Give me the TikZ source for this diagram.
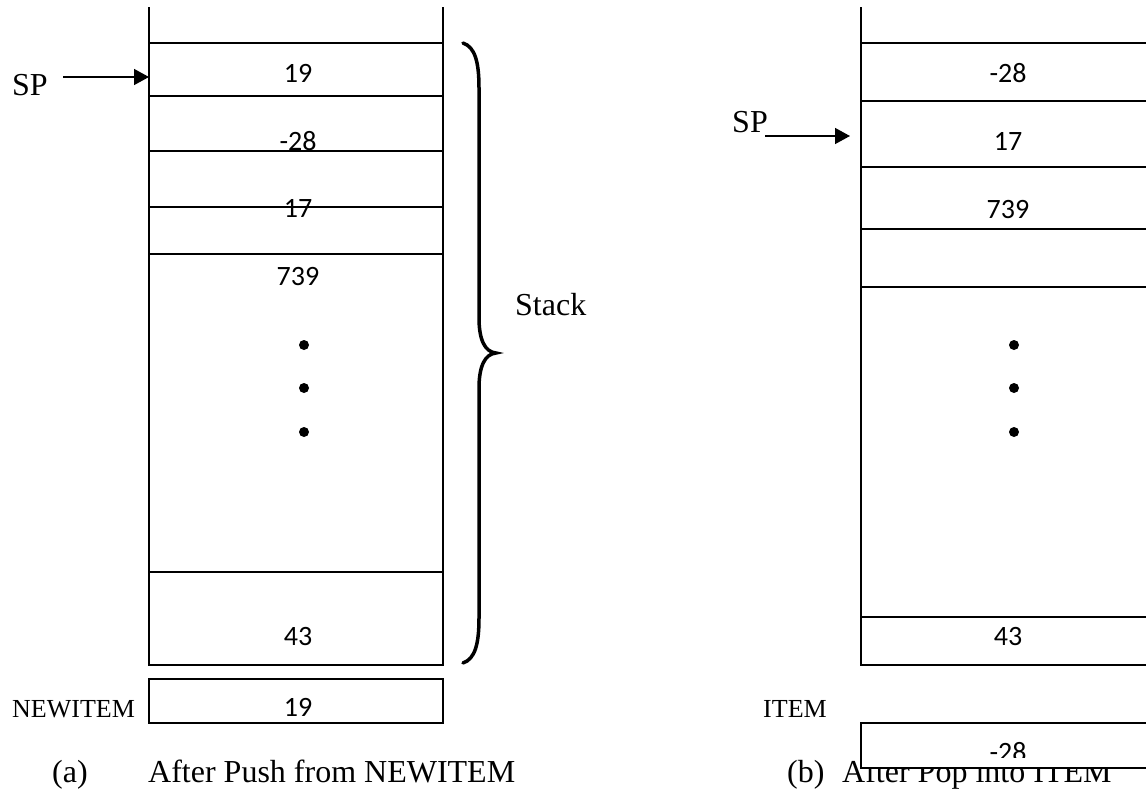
\documentclass[tikz,border=0pt]{standalone}
\usepackage{fontspec}
\setmainfont{Liberation Serif}
\newfontfamily\numfont{Carlito}
\usetikzlibrary{arrows.meta}

\tikzset{
  num/.style={inner sep=0pt, anchor=base, font=\numfont\fontsize{28}{32}\selectfont},
  lbl/.style={inner sep=0pt, anchor=base west, font=\fontsize{26}{30}\selectfont},
  biglbl/.style={inner sep=0pt, anchor=base west, font=\fontsize{32}{38}\selectfont},
  thinrule/.style={line width=1.5pt},
  rule/.style={line width=2pt},
  ptr/.style={line width=1.5pt, -{Triangle[length=15pt,width=16pt]}},
  brace/.style={line width=3.5pt, line cap=round},
  dot/.style={circle, fill=black, inner sep=0pt, minimum size=10pt}
}

\begin{document}
\begin{tikzpicture}[x=1pt, y=-1pt]
\useasboundingbox (0,0) rectangle (1146,790);
\clip (0,0) rectangle (1146,790);
\fill[white] (0,0) rectangle (1146,790);

% ---------------- (a) stack after push ----------------
\draw[rule] (149,7) -- (149,665) -- (443,665) -- (443,7);
\foreach \yy in {43,96,151,207,254,572}
  \draw[thinrule] (149,\yy) -- (443,\yy);

\node[num] (a19)  at (298,82)  {19};
\node[num] (am28) at (298,150) {-28};
\node[num] (a17)  at (298,217) {17};
\node[num] (a739) at (298,285) {739};
\node[num] (a43)  at (298,645) {43};
\node[dot] (ad1) at (304,345) {};
\node[dot] (ad2) at (304,388) {};
\node[dot] (ad3) at (304,432) {};

% stack pointer
\node[biglbl] (spa) at (12,95) {SP};
\coordinate (spaTail) at (63,77);
\coordinate (spaHead) at (149,77);
\draw[ptr] (spaTail) -- (spaHead);

% brace and its label
\draw[brace] (463,43) .. controls (475,47) and (479,62) .. (479,88)
  -- (479,318) .. controls (479,340) and (485,352) .. (496,353)
  .. controls (485,354) and (479,366) .. (479,388)
  -- (479,618) .. controls (479,644) and (475,659) .. (463,663);
\node[biglbl] (stk) at (515,315) {Stack};

% NEWITEM register
\node[lbl] (nilbl) at (12,717) {NEWITEM};
\draw[rule] (149,679) rectangle (443,723);
\begin{scope}
  \clip (150,680) rectangle (442,715);
  \node[num] (ni19) at (298,716) {19};
\end{scope}

\node[biglbl] (capa)  at (52,782)  {(a)};
\node[biglbl] (capat) at (148,782) {After Push from NEWITEM};

% ---------------- (b) stack after pop ----------------
\draw[rule] (861,7) -- (861,665) -- (1155,665) -- (1155,7);
\foreach \yy in {43,101,167,229,287,617}
  \draw[rule] (861,\yy) -- (1155,\yy);

\node[num] (bm28) at (1008,82)  {-28};
\node[num] (b17)  at (1008,150) {17};
\node[num] (b739) at (1008,218) {739};
\node[num] (b43)  at (1008,645) {43};
\node[dot] (bd1) at (1014,345) {};
\node[dot] (bd2) at (1014,388) {};
\node[dot] (bd3) at (1014,432) {};

\node[biglbl] (spb) at (732,132) {SP};
\coordinate (spbTail) at (765,136);
\coordinate (spbHead) at (850,136);
\draw[ptr] (spbTail) -- (spbHead);

\node[lbl] (itlbl) at (763,717) {ITEM};

\node[biglbl] (capb)  at (787,782) {(b)};
\node[biglbl] (capbt) at (842,782) {After Pop into ITEM};

% ITEM register, laid over the caption
\draw[rule, fill=white] (861,723) rectangle (1155,768);
\begin{scope}
  \clip (862,724) rectangle (1154,757);
  \node[num] (it28) at (1008,761) {-28};
\end{scope}
\end{tikzpicture}
\end{document}
